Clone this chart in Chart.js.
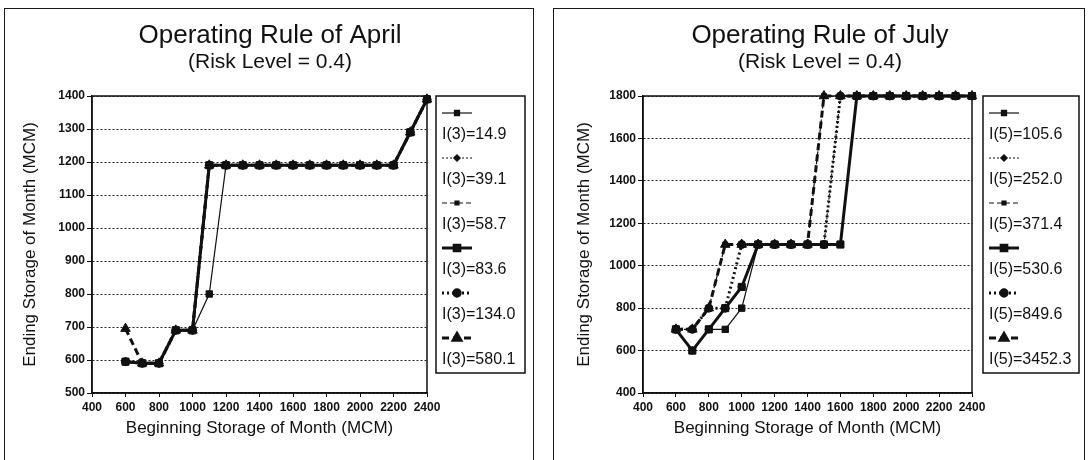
<!DOCTYPE html>
<html><head><meta charset="utf-8">
<script src="https://cdn.jsdelivr.net/npm/chart.js@4.4.0/dist/chart.umd.min.js"></script>
<style>
html,body{margin:0;padding:0;background:#fff;width:1088px;height:460px;overflow:hidden;}
.panel{position:absolute;border:1.5px solid #1a1a1a;border-bottom:none;box-sizing:border-box;}
#p1{left:4px;top:8px;width:530px;height:470px;}
#p2{left:553px;top:8px;width:532px;height:470px;}
canvas{position:absolute;top:0;}
#c1{left:0}
#c2{left:544px}
</style></head><body>
<div class="panel" id="p1"></div><div class="panel" id="p2"></div>
<canvas id="c1" width="544" height="460"></canvas>
<canvas id="c2" width="544" height="460"></canvas>
<script>
// ---------- data ----------
const beginStorage = [600,700,800,900,1000,1100,1200,1300,1400,1500,1600,1700,1800,1900,2000,2100,2200,2300,2400];
const xTickValues = [400,600,800,1000,1200,1400,1600,1800,2000,2200,2400];
const aprilYTicks = [500,600,700,800,900,1000,1100,1200,1300,1400];
const julyYTicks = [400,600,800,1000,1200,1400,1600,1800];

const aprilLabels = ["I(3)=14.9","I(3)=39.1","I(3)=58.7","I(3)=83.6","I(3)=134.0","I(3)=580.1"];
const april_14_9  = [595,590,590,690,690,800,1190,1190,1190,1190,1190,1190,1190,1190,1190,1190,1190,1290,1390];
const april_39_1  = [595,590,590,690,690,1190,1190,1190,1190,1190,1190,1190,1190,1190,1190,1190,1190,1290,1390];
const april_58_7  = [595,590,590,690,690,1190,1190,1190,1190,1190,1190,1190,1190,1190,1190,1190,1190,1290,1390];
const april_83_6  = [595,590,590,690,690,1190,1190,1190,1190,1190,1190,1190,1190,1190,1190,1190,1190,1290,1390];
const april_134_0 = [595,590,590,690,690,1190,1190,1190,1190,1190,1190,1190,1190,1190,1190,1190,1190,1290,1390];
const april_580_1 = [695,590,590,690,690,1190,1190,1190,1190,1190,1190,1190,1190,1190,1190,1190,1190,1290,1390];

const julyLabels = ["I(5)=105.6","I(5)=252.0","I(5)=371.4","I(5)=530.6","I(5)=849.6","I(5)=3452.3"];
const july_105_6  = [700,600,700,700,800,1100,1100,1100,1100,1100,1100,1800,1800,1800,1800,1800,1800,1800,1800];
const july_252_0  = [700,600,700,800,900,1100,1100,1100,1100,1100,1800,1800,1800,1800,1800,1800,1800,1800,1800];
const july_371_4  = [700,700,800,1100,1100,1100,1100,1100,1100,1800,1800,1800,1800,1800,1800,1800,1800,1800,1800];
const july_530_6  = [700,600,700,800,900,1100,1100,1100,1100,1100,1100,1800,1800,1800,1800,1800,1800,1800,1800];
const july_849_6  = [700,700,800,800,1100,1100,1100,1100,1100,1100,1800,1800,1800,1800,1800,1800,1800,1800,1800];
const july_3452_3 = [700,700,800,1100,1100,1100,1100,1100,1100,1800,1800,1800,1800,1800,1800,1800,1800,1800,1800];

// ---------- styles ----------
const INK = '#111';
const FONT = '"Liberation Sans", Arial, Helvetica, sans-serif';
const seriesStyles = [
  {w:1.2, dash:[],    pt:'rect',     r:4.5},
  {w:1.2, dash:[2,2], pt:'rectRot',  r:4},
  {w:1.2, dash:[5,3], pt:'rect',     r:3.5},
  {w:3,   dash:[],    pt:'rect',     r:5},
  {w:3,   dash:[2,3], pt:'circle',   r:4},
  {w:3,   dash:[7,4], pt:'triangle', r:5.5}
];

function makeDatasets(labels, series){
  return series.map((vals,i)=>{
    const s = seriesStyles[i];
    return {
      label: labels[i],
      data: beginStorage.map((x,k)=>({x:x, y:vals[k]})),
      borderColor: INK, backgroundColor: INK,
      borderWidth: s.w, borderDash: s.dash,
      pointStyle: s.pt, pointRadius: s.r, pointBorderWidth: 1,
      pointBackgroundColor: INK, pointBorderColor: INK,
      tension: 0, clip: false, fill: false
    };
  });
}

const decoPlugin = {
  id: 'deco',
  afterDraw(chart, args, o) {
    const ctx = chart.ctx, a = chart.chartArea;
    ctx.save();
    ctx.setLineDash([]);
    ctx.strokeStyle = INK; ctx.lineWidth = 1.5;
    ctx.strokeRect(a.left, a.top, a.right - a.left, a.bottom - a.top);
    // titles
    ctx.fillStyle = INK;
    ctx.textAlign = 'center'; ctx.textBaseline = 'middle';
    ctx.font = '26px ' + FONT;
    ctx.fillText(o.title, o.cx, 36);
    ctx.font = '21px ' + FONT;
    ctx.fillText(o.subtitle, o.cx, 62);
    // legend box
    ctx.lineWidth = 1.5;
    ctx.strokeRect(o.lx, o.ly, o.lw, o.lh);
    chart.data.datasets.forEach((ds,i)=>{
      const y = o.ly + 17 + i*45;
      ctx.save();
      ctx.strokeStyle = INK; ctx.lineWidth = ds.borderWidth;
      ctx.setLineDash(ds.borderDash || []);
      ctx.beginPath(); ctx.moveTo(o.lx+6, y); ctx.lineTo(o.lx+36, y); ctx.stroke();
      ctx.setLineDash([]);
      ctx.fillStyle = INK; ctx.strokeStyle = INK;
      Chart.helpers.drawPoint(ctx, {pointStyle: ds.pointStyle, radius: ds.pointRadius*0.8, borderWidth: 1, rotation: 0}, o.lx+21, y);
      ctx.restore();
      ctx.fillStyle = INK;
      ctx.font = '16px ' + FONT;
      ctx.textAlign = 'left'; ctx.textBaseline = 'middle';
      ctx.fillText(ds.label, o.lx+6, y+22);
    });
    ctx.restore();
  }
};

function makeChart(id, labels, series, yTicks, deco, padLeft, yWidth, padRight){
  const ymin = yTicks[0], ymax = yTicks[yTicks.length-1];
  return new Chart(document.getElementById(id), {
    type: 'line',
    data: { datasets: makeDatasets(labels, series) },
    plugins: [decoPlugin],
    options: {
      responsive: false, animation: false, devicePixelRatio: 1,
      layout: { padding: {left: padLeft, top: 96, right: padRight, bottom: 21} },
      plugins: { legend: {display:false}, tooltip: {enabled:false}, title:{display:false}, deco: deco },
      scales: {
        x: {
          type: 'linear', min: 400, max: 2400,
          afterBuildTicks: s => { s.ticks = xTickValues.map(v=>({value:v})); },
          afterFit: s => { s.height = 46; },
          ticks: { color: INK, font: {family: FONT, size: 12, weight: 'bold'}, maxRotation: 0, autoSkip: false, padding: 3,
                   callback: v => String(v) },
          grid: { drawOnChartArea: false, drawTicks: true, tickLength: 4, tickColor: INK, tickWidth: 1 },
          border: { color: INK, width: 1.5 },
          title: { display: true, text: 'Beginning Storage of Month (MCM)', color: INK, font: {family: FONT, size: 17}, padding: {top:0, bottom:0} }
        },
        y: {
          min: ymin, max: ymax,
          afterBuildTicks: s => { s.ticks = yTicks.map(v=>({value:v})); },
          afterFit: s => { s.width = yWidth; },
          ticks: { color: INK, font: {family: FONT, size: 12, weight: 'bold'}, padding: 2, callback: v => String(v) },
          grid: { color: '#222', lineWidth: 1, drawTicks: true, tickLength: 5, tickColor: INK, tickWidth: 1, tickBorderDash: [] },
          border: { color: INK, width: 1.5, dash: [2,2] },
          title: { display: true, text: 'Ending Storage of Month (MCM)', color: INK, font: {family: FONT, size: 17}, padding: {top:0, bottom:0} }
        }
      }
    }
  });
}

makeChart('c1', aprilLabels,
  [april_14_9, april_39_1, april_58_7, april_83_6, april_134_0, april_580_1],
  aprilYTicks,
  {title: 'Operating Rule of April', subtitle: '(Risk Level = 0.4)', cx: 270, lx: 436, ly: 96, lw: 89, lh: 277},
  20, 72, 117);

makeChart('c2', julyLabels,
  [july_105_6, july_252_0, july_371_4, july_530_6, july_849_6, july_3452_3],
  julyYTicks,
  {title: 'Operating Rule of July', subtitle: '(Risk Level = 0.4)', cx: 276, lx: 439, ly: 96, lw: 96, lh: 277},
  30, 69, 116);
</script>
</body></html>
